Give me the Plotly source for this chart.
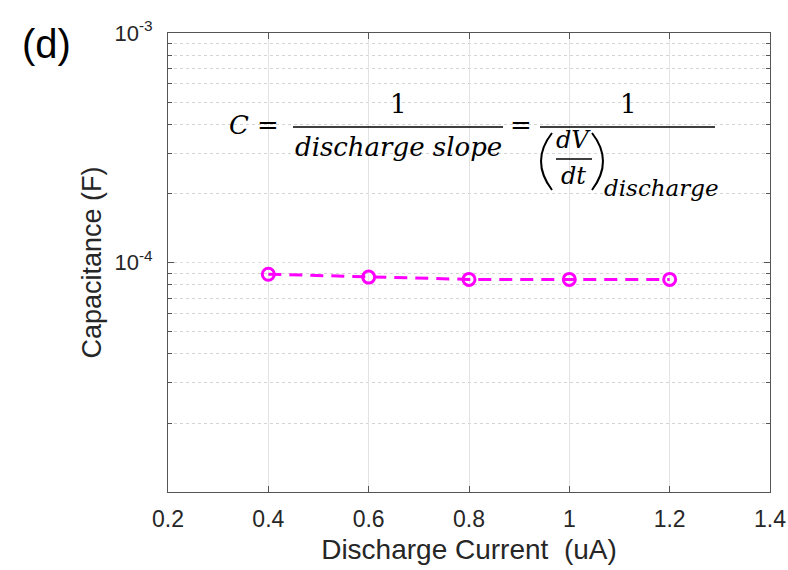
import plotly.graph_objects as go

# ---- data ----
current_uA = [0.4, 0.6, 0.8, 1.0, 1.2]
capacitance_F = [8.9e-5, 8.65e-5, 8.45e-5, 8.45e-5, 8.45e-5]
x_ticks = [0.2, 0.4, 0.6, 0.8, 1.0, 1.2, 1.4]
x_ticklabels = ["0.2", "0.4", "0.6", "0.8", "1", "1.2", "1.4"]
y_ticks = [1e-4, 1e-3]
y_ticklabels = ["10<sup>-4</sup>", "10<sup>-3</sup>"]
y_minor = [m * 10.0 ** e for e in (-5, -4) for m in range(2, 10)]

MAG = "#FF00FF"
AX = "#555555"
TXT = "#262626"
W, H = 788, 570
L, R, T, B = 168, 18, 33, 78
# plot area in page pixel coordinates
PL, PR, PT, PB = L, W - R, T, H - B


def px(x):
    return (x - PL) / (PR - PL)


def py(y):
    return (PB - y) / (PB - PT)


fig = go.Figure()
fig.add_trace(go.Scatter(
    x=current_uA, y=capacitance_F, mode="lines+markers",
    line=dict(color=MAG, width=3, dash="13px,8px"),
    marker=dict(symbol="circle-open", size=12, color=MAG, line=dict(width=3, color=MAG)),
    showlegend=False,
))

serif = "DejaVu Serif"
ann = []


def txt(x, y, s, size=26, italic=True):
    t = f"<i>{s}</i>" if italic else s
    ann.append(dict(x=px(x), y=py(y), xref="paper", yref="paper", text=t,
                    showarrow=False, xanchor="center", yanchor="middle",
                    font=dict(family=serif, size=size, color="black")))


txt(239, 125, "C")
txt(268, 125, "=", italic=False)
txt(398, 104, "1", italic=False)
txt(398, 147, "discharge slope")
txt(521, 125, "=", italic=False)
txt(628, 104, "1", italic=False)
txt(573, 140, "dV", size=24)
txt(573, 176, "dt", size=24)
txt(661, 188, "discharge", size=23)

shapes = [
    dict(type="line", xref="paper", yref="paper", x0=px(293), x1=px(503), y0=py(127), y1=py(127),
         line=dict(color="black", width=1.6)),
    dict(type="line", xref="paper", yref="paper", x0=px(540), x1=px(715), y0=py(127), y1=py(127),
         line=dict(color="black", width=1.6)),
    dict(type="line", xref="paper", yref="paper", x0=px(556), x1=px(592), y0=py(159), y1=py(159),
         line=dict(color="black", width=1.4)),
    # large parentheses
    dict(type="path", xref="paper", yref="paper",
         path=f"M {px(552)} {py(133)} Q {px(530)} {py(161)} {px(552)} {py(190)}",
         line=dict(color="black", width=2)),
    dict(type="path", xref="paper", yref="paper",
         path=f"M {px(592)} {py(133)} Q {px(614)} {py(161)} {px(592)} {py(190)}",
         line=dict(color="black", width=2)),
]

ann.append(dict(x=px(46), y=py(44), xref="paper", yref="paper", text="(d)", showarrow=False,
                xanchor="center", yanchor="middle",
                font=dict(family="Liberation Sans", size=40, color="black")))

fig.update_layout(
    width=W, height=H,
    margin=dict(l=L, r=R, t=T, b=B, pad=0),
    paper_bgcolor="white", plot_bgcolor="white",
    font=dict(family="Liberation Sans", size=24, color=TXT),
    annotations=ann, shapes=shapes,
    xaxis=dict(
        range=[0.2, 1.4], tickmode="array", tickvals=x_ticks, ticktext=x_ticklabels,
        ticks="inside", ticklen=6, tickcolor=AX, showline=True, linecolor=AX, linewidth=1,
        mirror="ticks", showgrid=True, gridcolor="#e3e3e3", gridwidth=1, zeroline=False,
        tickfont=dict(size=23, color=TXT), ticklabelstandoff=6, ticklabeloverflow="allow",
        automargin=False,
        title=dict(text="Discharge Current  (uA)", font=dict(size=28, color=TXT), standoff=8),
    ),
    yaxis=dict(
        type="log", range=[-4.999, -3], tickmode="array", tickvals=y_ticks, ticktext=y_ticklabels,
        ticks="inside", ticklen=6, tickcolor=AX, showline=True, linecolor=AX, linewidth=1,
        mirror="ticks", showgrid=True, gridcolor="#dcdcdc", griddash="dot", zeroline=False,
        tickfont=dict(size=22, color=TXT), ticklabelstandoff=10, ticklabeloverflow="allow",
        automargin=False,
        minor=dict(tickmode="array", tickvals=y_minor, ticks="inside", ticklen=4, tickcolor=AX,
                   showgrid=True, gridcolor="#d4d4d4", griddash="dot"),
        title=dict(text="Capacitance (F)", font=dict(size=27, color=TXT), standoff=4),
    ),
)

# remove the default 8px page margin so the figure fills the window exactly
fig.write_html("out.html", config={"displayModeBar": False},
               post_script="document.body.style.margin='0';")
